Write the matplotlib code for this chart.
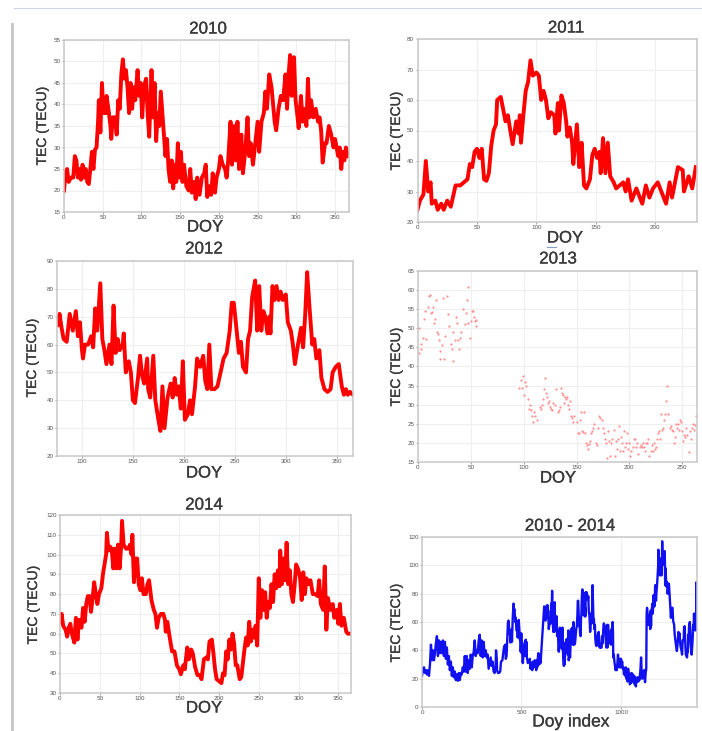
import matplotlib
matplotlib.use("Agg")
import matplotlib.pyplot as plt
import matplotlib.patheffects as pe
from matplotlib.lines import Line2D
from matplotlib.patches import Rectangle

plt.rcParams['font.family'] = ['Liberation Sans', 'DejaVu Sans']

W, H = 702, 731

# (day, TEC)
tec_2010 = [(0,20),(2,24),(4,25),(6,22),(9,23),(12,23),(14,28),(16,27),(18,23),(20,25),(22,22.5),(24,26),(26,23),(28,25),(30,22),(32,21.5),(34,25),(36,29),(38,25),(40,29.5),(42,30),(44,36),(45,41),(47,33.5),(49,45),(51,38),(54,38),(55,42),(58,38),(60,35),(61,32),(63,37),(66,37),(68,33),(70,41),(72,39),(74,47),(76,50.5),(78,46),(80,48),(82,44),(84,38),(86,45),(88,39),(90,44),(92,41),(95,48),(97,42),(99,45),(101,37),(103,44),(106,46),(108,38),(110,32.5),(113,48),(115,37),(117,45),(119,31.5),(121,38),(123,35),(125,43),(127,38),(129,33),(131,28),(133,32),(135,25),(137,22),(139,27),(141,20.5),(143,26),(145,22),(147,31),(149,23),(151,29),(153,22),(155,26),(158,21),(161,20),(163,25),(165,19.5),(168,22),(170,18),(172,23),(175,19),(178,23),(181,24),(183,26),(185,18.5),(187,21),(190,19),(192,24),(195,19.5),(197,23),(200,25),(202,28),(205,26),(208,25),(210,23),(212,27),(215,36),(217,26),(220,35),(222,27),(224,36),(226,25),(229,33),(231,24),(234,29),(237,37),(239,28),(241,31),(244,26),(247,31),(250,36),(252,29),(255,36),(258,38),(260,43),(262,39),(265,47),(268,44),(270,40),(272,36),(274,34),(277,39),(280,42),(283,41),(286,47),(288,39),(290,47),(292,51.5),(294,42),(297,51),(299,41),(301,38),(303,34.5),(306,42),(308,36),(310,39),(313,35),(315,46),(317,37),(319,41),(322,37),(325,39),(328,36),(330,37),(332,34),(334,26.5),(337,31),(339,31),(342,35),(345,33),(348,30),(350,32),(352,30),(354,28),(356,30),(358,25),(360,29),(362,27),(364,30),(367,28)]

tec_2011 = [(0,24),(2,27),(5,29),(7,40),(9,30),(11,33),(12,26),(15,27),(17,24),(20,26),(22,24),(25,27),(28,25),(32,32),(36,32),(39,33),(42,34),(44,39),(46,38),(48,43),(50,44),(52,41),(54,44),(56,34),(58,33.5),(60,36),(62,45),(64,50),(66,52),(67,60),(70,61),(72,57),(74,53),(76,55),(78,50),(80,45.5),(83,53),(85,49),(86,55),(87,46),(89,55),(91,63),(93,66),(95,73),(97,68),(100,69),(102,68),(104,60),(106,63),(108,60),(110,54),(112,56),(115,55),(116,49),(118,59),(119,50),(121,61.5),(123,59),(125,53),(126,48),(128,51),(130,46),(131,39),(134,52),(136,38),(138,46),(140,32),(142,31),(145,34),(147,42),(149,44),(151,41),(153,43),(154,36),(156,47.5),(158,36),(160,46),(162,35),(165,33),(167,31),(170,32),(173,33),(175,30),(177,34),(180,27),(184,31),(189,26),(192,32),(195,28),(198,31),(202,33),(205,30),(209,26),(212,33),(214,28),(219,38),(223,37),(224,30),(228,35),(231,31),(234,38)]

tec_2012 = [(76,67),(78,71),(80,66),(82,62),(85,61),(88,71),(91,65),(94,72),(96,63),(98,68),(100,58),(101,55),(103,60),(106,60),(109,63),(111,59),(113,73),(115,65),(118,82),(120,62),(122,58),(124,53),(127,60),(129,53),(131,74),(133,57),(135,62),(137,58),(140,60),(141,64),(143,50),(146,54),(148,50),(150,40),(152,39),(155,48),(157,56),(159,49),(161,46),(164,55),(165,44),(167,41),(170,56),(172,40),(175,33),(177,29),(179,45),(181,30),(184,41),(187,46),(189,41),(191,48),(193,42),(195,45),(197,37),(199,54),(201,33),(204,35),(206,40),(208,35),(211,45),(213,55),(216,52),(219,56),(221,47),(223,44),(225,60),(227,44),(230,44),(233,45),(236,50),(239,55),(242,57),(245,65),(247,75),(249,75),(251,68),(254,57),(256,61),(258,52),(261,50),(263,62),(265,65),(267,77),(270,83),(272,65),(274,81),(276,65),(278,72),(280,70),(282,64),(284,70),(285,64),(287,81),(289,76),(291,81),(293,76),(295,79),(297,76),(300,78),(302,68),(305,65),(307,60),(309,53),(312,60),(315,66),(317,59),(319,70),(321,86),(323,75),(326,60),(328,62),(330,55),(333,58),(335,48),(338,44),(341,43),(344,44),(346,50),(349,52),(352,53),(355,45),(357,42),(359,44),(361,42),(363,43),(366,42)]

tec_2013 = [(1,50),(1,43.5),(3,46),(3,44.5),(5,47.5),(6,52.5),(7,54.5),(8,47.3),(9,55.5),(10,58.5),(11,58.6),(12,54),(13,54.3),(14,55.5),(15,51.5),(16,52.5),(17,57.5),(18,49),(19,48.5),(20,47),(21,42),(21,44),(23,45.7),(24,58),(25,42),(26,48),(27,58.5),(28,53.7),(29,50.5),(31,45.8),(32,44.5),(33,41.5),(33,49),(35,47),(36,53),(37,51.5),(38,47),(39,44.5),(40,47.5),(41,49),(43,55),(44,51),(45,54),(46,57.5),(47,51.5),(47,60.8),(49,47.5),(50,52),(51,54.5),(52,54.5),(53,53),(54,52),(55,50.5),(55,52.3),
            (96,34.5),(97,36.5),(98,34.5),(99,37.5),(100,32.5),(101,36),(102,34.8),(104,31.5),(105,29),(106,30),(107,28.5),(108,27),(109,25.5),(110,28),(111,27),(113,26),(115,29.5),(116,29),(117,30),(118,31.5),(119,34),(120,37),(121,33),(122,32),(123,30.5),(124,31),(125,29.5),(126,29),(127,28.5),(128,30.5),(130,30),(131,34),(132,28),(133,28.5),(134,29.5),(135,34.5),(136,33),(137,32.5),(138,30.5),(139,32),(140,31.5),(141,32),(142,30),(143,29),(144,31),(145,27),(146,26.5),(147,25.5),(148,27),(150,25.5),(151,22.5),(152,22.7),(153,26),(154,28),(155,23),(156,22.8),(157,28),(158,22.5),(159,20),(160,19.5),(161,18.5),(162,19.7),(163,20.5),(164,22.5),(165,23),(166,24),(167,25),(168,20),(169,19.5),(170,24),(171,27),(172,26.5),(174,26),(175,24),(176,22.5),(177,21),(178,20),(179,16),(180,23),(181,20.5),(182,16.5),(183,20),(184,21),(185,23.5),(186,16.7),(187,20.5),(188,18.5),(189,21),(190,24.5),(191,18),(192,21.5),(193,20),(194,18),(195,23),(196,19),(197,20),(198,22.5),(199,18.5),(200,20),(201,16.5),(202,18),(203,19),(204,21),(205,21),(206,19),(207,20),(208,17),(209,14.5),(210,19),(211,19.5),(212,19),(213,20),(214,19),(215,18),(216,20),(217,20),(218,21),(219,16.5),(220,18),(221,19.5),(222,18),(223,20),(224,18.5),(225,19),(226,21),(227,22.5),(228,23),(229,21),(230,27.5),(231,23.5),(232,24),(233,26),(234,27.5),(235,31),(236,35),(237,27.5),(238,24),(239,24.5),(240,23.5),(241,23),(242,20),(243,21.5),(244,25),(245,24),(246,25),(247,23.5),(248,26),(249,25.5),(250,23),(251,20.5),(252,22),(253,21.5),(254,24),(255,22),(256,17.5),(257,23),(258,21),(259,24),(260,25),(261,23.5),(262,24.8),(263,27)]

tec_2014 = [(0,66),(2,70),(4,64),(7,62),(9,58.5),(11,63),(13,65),(15,60),(18,55.5),(20,68),(22,57),(24,67),(27,63),(29,73),(31,66),(33,75),(35,79),(37,79),(39,71),(41,78),(43,86),(45,80),(47,75),(49,80),(52,83),(54,90),(56,95),(58,100),(59,111),(61,102),(63,104),(65,103),(67,93),(69,103),(71,93),(73,105),(75,93),(77,105),(78,117),(80,105),(83,103),(86,103),(88,105),(90,100),(91,110),(93,86),(95,98),(97,98),(99,85),(101,82),(103,88),(105,80),(108,80),(110,85),(112,87),(115,77),(118,72),(120,70),(122,63),(124,68),(127,70),(130,70),(132,67),(133,61),(135,66),(138,58),(141,51),(144,51),(147,44),(150,42),(152,39.5),(155,44),(157,42),(160,53),(162,47),(165,52),(167,50),(170,43),(173,39),(176,39),(178,37),(181,47),(184,48),(186,47),(188,56),(191,57),(193,50),(195,42),(197,37),(200,36),(203,35),(205,40),(207,39),(209,51),(211,47),(213,57),(215,52),(217,60),(219,55),(221,44),(223,44),(226,37),(228,38),(230,45),(232,52),(234,58),(236,54),(238,66),(240,56),(242,62),(244,58),(246,64),(248,54),(250,88),(252,68),(254,82),(256,72),(258,81),(260,68),(262,76),(264,73),(266,85),(268,76),(270,90),(272,83),(274,92),(276,84),(277,102),(279,85),(281,98),(283,87),(285,106),(287,85),(289,92),(291,80),(293,76),(295,84),(297,95),(300,92),(302,88),(304,77),(306,91),(308,80),(310,88),(312,85),(315,87),(318,80),(321,80),(324,79),(326,87),(328,75),(331,72),(333,94),(335,62),(337,78),(340,72),(343,75),(345,68),(348,72),(350,65),(352,75),(354,64),(357,68),(360,61),(362,60),(366,60)]

tec_all = [(0,22),(5,27),(10,28),(15,24),(20,26),(25,23),(30,26),(35,22),(40,30),(45,44),(50,33),(55,40),(60,33),(65,38),(70,45),(75,50),(80,36),(85,47),(90,38),(95,46),(100,38),(105,47),(110,36),(115,46),(120,34),(125,42),(130,30),(135,36),(140,26),(145,32),(150,22),(155,28),(160,21),(165,25),(170,19),(175,23),(180,18.5),(185,24),(190,19),(195,24),(200,23),(205,28),(210,25),(215,36),(220,25),(225,36),(230,24),(235,33),(240,27),(245,37),(250,28),(255,36),(260,39),(265,47),(270,36),(275,40),(280,38),(285,47),(290,51),(295,36),(300,47),(305,35),(310,46),(315,36),(320,40),(325,35),(330,37),(335,27),(340,31),(345,35),(350,29),(355,32),(360,25),(365,24),
           (370,29),(372,40),(376,33),(377,26),(382,24),(387,24),(393,25),(397,32),(404,33),(409,39),(413,43),(417,41),(419,44),(421,34),(425,36),(429,50),(432,60),(435,61),(439,53),(443,50),(445,45.5),(448,53),(451,55),(452,46),(456,63),(460,73),(462,68),(465,69),(469,60),(471,63),(475,54),(480,55),(481,49),(483,59),(484,50),(486,61.5),(490,53),(491,48),(495,46),(496,39),(499,52),(501,38),(503,46),(505,32),(507,31),(512,42),(514,44),(518,43),(519,36),(521,47.5),(523,36),(525,46),(527,35),(532,31),(538,33),(542,34),(545,27),(549,31),(554,26),(557,32),(560,28),(563,31),(567,33),(570,30),(574,26),(577,33),(579,28),(584,38),(588,37),(589,30),(593,35),(596,31),(599,38),
           (612,67),(614,71),(618,62),(621,61),(624,71),(627,65),(630,72),(632,63),(634,68),(637,55),(642,60),(645,63),(647,59),(649,73),(651,65),(654,82),(656,62),(660,53),(663,60),(665,53),(667,74),(669,57),(671,62),(673,58),(677,64),(679,50),(682,54),(684,50),(686,40),(688,39),(691,48),(693,56),(695,49),(697,46),(700,55),(701,44),(703,41),(706,56),(708,40),(711,33),(713,29),(715,45),(717,30),(720,41),(723,46),(725,41),(727,48),(729,42),(731,45),(733,37),(735,54),(737,33),(740,35),(742,40),(744,35),(747,45),(749,55),(752,52),(755,56),(757,47),(759,44),(761,60),(763,44),(766,44),(769,45),(772,50),(775,55),(778,57),(781,65),(783,75),(785,75),(787,68),(790,57),(792,61),(794,52),(797,50),(799,62),(801,65),(803,77),(806,83),(808,65),(810,81),(812,65),(814,72),(816,70),(818,64),(820,70),(821,64),(823,81),(825,76),(827,81),(829,76),(831,79),(833,76),(836,78),(838,68),(841,65),(843,60),(845,53),(848,60),(851,66),(853,59),(855,70),(857,86),(859,75),(862,60),(864,62),(866,55),(869,58),(871,48),(874,44),(877,43),(880,44),(882,50),(885,52),(888,53),(891,45),(893,42),(895,44),(897,42),(899,43),(902,42),
           (905,50),(908,45),(911,55),(914,59),(917,54),(920,57),(923,48),(926,42),(929,58),(932,42),(935,58),(938,50),(941,45),(944,53),(947,47),(950,44),(953,55),(956,47),(958,60),(960,52),
           (961,35),(964,37),(967,32),(970,29),(973,26),(976,28),(979,26),(982,31),(985,37),(988,30),(991,28),(994,34),(997,28),(1000,34),(1003,30),(1006,32),(1009,27),(1012,28),(1015,23),(1018,26),(1021,22),(1024,28),(1027,20),(1030,24),(1033,18),(1036,27),(1039,21),(1042,24),(1045,16),(1048,23),(1051,17),(1054,24),(1057,18),(1060,23),(1063,18),(1066,22),(1069,16),(1072,21),(1075,14.5),(1078,20),(1081,18),(1084,21),(1087,18),(1090,20),(1093,19),(1095,22),(1098,27),(1101,35),(1104,24),(1107,20),(1110,25),(1113,23),(1116,26),(1119,20),(1121,17.5),(1124,24),(1127,27),
           (1129,66),(1131,70),(1136,62),(1138,58),(1142,65),(1147,55),(1149,68),(1151,57),(1153,67),(1158,73),(1160,66),(1164,79),(1168,71),(1172,86),(1176,75),(1178,80),(1183,90),(1187,100),(1188,111),(1190,102),(1194,103),(1196,93),(1198,103),(1200,93),(1202,105),(1204,93),(1206,105),(1207,117),(1209,105),(1215,103),(1219,100),(1220,110),(1222,86),(1224,98),(1228,85),(1232,88),(1234,80),(1239,85),(1241,87),(1247,72),(1251,63),(1253,68),(1256,70),(1259,70),(1262,61),(1267,58),(1270,51),(1276,44),(1281,39.5),(1284,44),(1289,53),(1291,47),(1294,52),(1299,43),(1305,39),(1307,37),(1310,47),(1315,47),(1317,56),(1320,57),(1324,42),(1326,37),(1332,35),(1334,40),(1336,39),(1338,51),(1340,47),(1342,57),(1346,60),(1348,55),(1350,44),(1355,37),(1359,45),(1363,58),(1365,54),(1367,66),(1369,56),(1371,62),(1373,58),(1375,64),(1377,54),(1379,88),(1381,68),(1383,82)]

titles = ['2010', '2011', '2012', '2013', '2014', '2010 - 2014']


def add_panel(box, xlim, ylim, xticks, yticks):
    left, top, right, bottom = box
    ax = fig.add_axes([left / W, 1 - bottom / H, (right - left) / W, (bottom - top) / H])
    ax.set_xlim(xlim)
    ax.set_ylim(ylim)
    ax.set_xticks(xticks)
    ax.set_yticks(yticks)
    ax.tick_params(labelsize=4.5, colors='#555555', length=1.5, width=0.4, pad=1)
    ax.grid(True, color='#efefef', linewidth=0.8)
    ax.set_axisbelow(True)
    for s in ax.spines.values():
        s.set_color('#c8c8c8')
        s.set_linewidth(1.1)
    return ax


def draw_line(ax, points, color, lw):
    days, tec = zip(*points)
    ax.plot(days, tec, color=color, lw=lw)


def put_text(x, y, s, size, rotation=0):
    t = fig.text(x / W, 1 - y / H, s, fontsize=size, rotation=rotation,
                 ha='center', va='center', color='#3a3a3a')
    # the labels look a little heavier than the regular weight
    t.set_path_effects([pe.withStroke(linewidth=0.2, foreground='#3a3a3a')])


fig = plt.figure(figsize=(W / 100, H / 100), dpi=100)

# page edges from the screenshot
fig.add_artist(Rectangle((11 / W, 0), 3 / W, 1 - 23 / H, transform=fig.transFigure, color='#c8c8c8', lw=0))
fig.add_artist(Line2D([14 / W, 1], [1 - 8 / H, 1 - 8 / H], color='#ccd6e8', lw=0.8))
fig.add_artist(Line2D([547 / W, 556 / W], [1 - 247 / H, 1 - 247 / H], color='#7f9fc8', lw=0.8))

ax = add_panel((64, 40, 349, 212), (0, 368), (15, 55), range(0, 351, 50), range(15, 56, 5))
draw_line(ax, tec_2010, 'red', 2.8)

ax = add_panel((417.5, 39, 697, 222), (0, 235), (20, 80), range(0, 201, 50), range(20, 81, 10))
draw_line(ax, tec_2011, 'red', 2.8)

ax = add_panel((57, 261, 353, 456), (75.5, 366), (20, 90), range(100, 351, 50), range(20, 91, 10))
draw_line(ax, tec_2012, 'red', 2.8)

ax = add_panel((418, 271, 697, 462), (0, 264), (15, 65), range(0, 251, 50), range(15, 66, 5))
days, tec = zip(*tec_2013)
ax.plot(days, tec, linestyle='none', marker='.', markersize=3.2, markeredgewidth=0, color='#ff8f8f')

ax = add_panel((60, 515, 351, 693), (0, 366), (30, 120), range(0, 351, 50), range(30, 121, 10))
draw_line(ax, tec_2014, 'red', 2.8)

ax = add_panel((422, 537, 697, 707), (0, 1382), (0, 120), range(0, 1001, 500), range(0, 121, 20))
draw_line(ax, tec_all, '#1010f0', 1.7)

# titles and axis labels sit at fixed spots in the composite
for (x, y), t in zip([(208, 29), (566, 28), (204, 249), (558, 259), (204, 505), (570, 526)], titles):
    put_text(x, y, t, 12.2)
for x, y in [(205, 227), (565, 238), (204, 473), (558, 478), (204, 708)]:
    put_text(x, y, 'DOY', 12)
put_text(571, 722, 'Doy index', 12.5)
for x, y in [(42, 126), (396, 131), (32, 358), (396, 367), (33, 605), (396, 623)]:
    put_text(x, y, 'TEC (TECU)', 10, rotation=90)

fig.savefig('out.png', dpi=100)
